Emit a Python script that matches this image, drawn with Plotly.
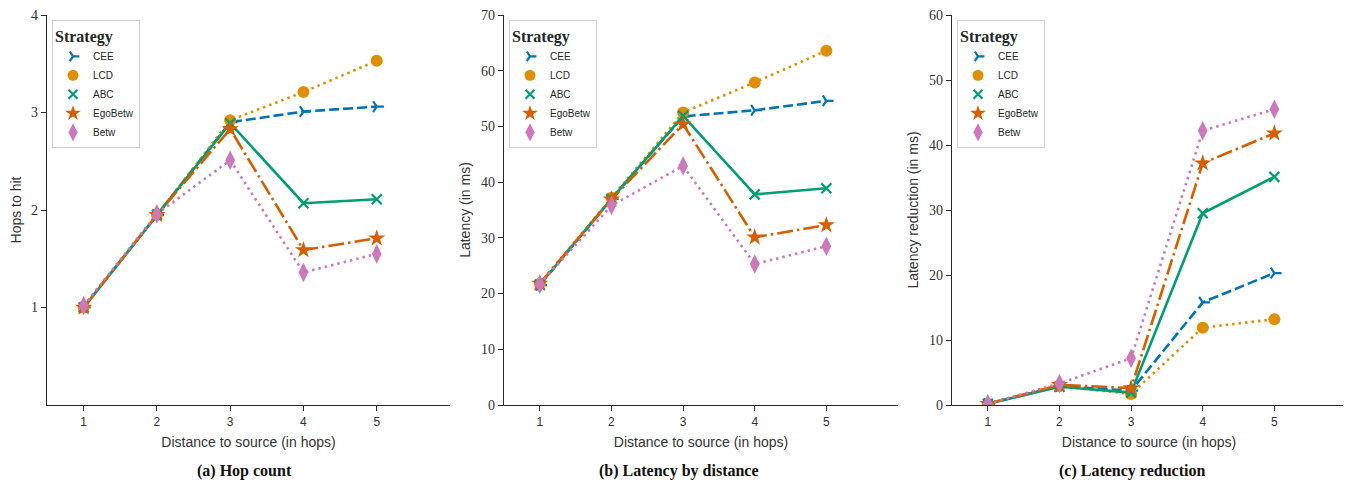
import plotly.graph_objects as go

distance = [1, 2, 3, 4, 5]
strategies = ["CEE", "LCD", "ABC", "EgoBetw", "Betw"]

# (a) Hop count
hops_cee = [1.0, 1.95, 2.90, 3.01, 3.06]
hops_lcd = [1.0, 1.95, 2.92, 3.21, 3.53]
hops_abc = [1.0, 1.95, 2.89, 2.07, 2.11]
hops_ego = [1.0, 1.95, 2.83, 1.59, 1.71]
hops_betw = [1.02, 1.96, 2.51, 1.36, 1.55]

# (b) Latency by distance
lat_cee = [21.5, 37.0, 51.8, 52.9, 54.6]
lat_lcd = [21.8, 37.2, 52.5, 57.9, 63.6]
lat_abc = [21.6, 37.0, 51.9, 37.8, 38.9]
lat_ego = [21.8, 36.9, 50.4, 30.1, 32.3]
lat_betw = [21.7, 35.8, 42.9, 25.3, 28.5]

# (c) Latency reduction
red_cee = [0.2, 2.9, 2.2, 15.8, 20.3]
red_lcd = [0.2, 2.9, 1.7, 11.9, 13.2]
red_abc = [0.2, 2.8, 1.9, 29.5, 35.1]
red_ego = [0.2, 3.1, 2.6, 37.2, 41.8]
red_betw = [0.2, 3.3, 7.2, 42.2, 45.5]

panels = [
    [hops_cee, hops_lcd, hops_abc, hops_ego, hops_betw],
    [lat_cee, lat_lcd, lat_abc, lat_ego, lat_betw],
    [red_cee, red_lcd, red_abc, red_ego, red_betw],
]
y_titles = ["Hops to hit", "Latency (in ms)", "Latency reduction (in ms)"]
y_ranges = [[0, 4], [0, 70], [0, 60]]
y_ticks = [[1, 2, 3, 4], [0, 10, 20, 30, 40, 50, 60, 70], [0, 10, 20, 30, 40, 50, 60]]
x_title = "Distance to source (in hops)"
captions = ["(a) Hop count", "(b) Latency by distance", "(c) Latency reduction"]

colors = ["#0173b2", "#de8f05", "#029e73", "#d55e00", "#cc78bc"]
dashes = ["10px,4px", "2.5px,4px", "solid", "16px,4px,2.5px,4px", "2.5px,4px"]
symbols = ["y-right-open", "circle", "x-thin-open", "star", "diamond-tall"]
msizes = [9, 12, 10, 13, 14]
leg_sizes = [8, 11, 9, 12, 13]

# the page body adds an 8px margin around the figure
OFF = 8
W, H = 1351 - OFF, 485 - OFF
ML, MR, MT = 47 - OFF, 5, 15 - OFF
PLOT_BOTTOM = 405 - OFF
MB = H - PLOT_BOTTOM
PW = W - ML - MR
PH = H - MT - MB


def px_x(sx):
    return (sx - OFF - ML) / PW


def px_y(sy):
    return 1 - (sy - OFF - MT) / PH


px_dom = [(47, 450), (504, 898), (952, 1346)]
doms = [(px_x(a), px_x(b)) for a, b in px_dom]

fig = go.Figure()
legend_names = ["legend", "legend2", "legend3"]
open_syms = ("y-right-open", "x-thin-open")
for p in range(3):
    xa = "x" if p == 0 else f"x{p+1}"
    ya = "y" if p == 0 else f"y{p+1}"
    for i, name in enumerate(strategies):
        mline = dict(color=colors[i], width=2.2 if symbols[i] in open_syms else 0)
        fig.add_trace(go.Scatter(
            x=distance, y=panels[p][i], name=name, mode="lines+markers",
            xaxis=xa, yaxis=ya, showlegend=False,
            line=dict(color=colors[i], width=2.6, dash=dashes[i]),
            marker=dict(symbol=symbols[i], size=msizes[i], color=colors[i], line=mline),
        ))
    # legend entries show markers only
    for i, name in enumerate(strategies):
        mline = dict(color=colors[i], width=2.2 if symbols[i] in open_syms else 0)
        fig.add_trace(go.Scatter(
            x=[None], y=[None], name=name, mode="markers",
            xaxis=xa, yaxis=ya, legend=legend_names[p], showlegend=True,
            marker=dict(symbol=symbols[i], size=leg_sizes[i], color=colors[i], line=mline),
        ))

axis_line = "#262626"
tick_font_y = dict(family="Liberation Serif, DejaVu Serif, serif", size=14, color="#333333")
tick_font_x = dict(family="Liberation Sans, Arial, sans-serif", size=12, color="#333333")
title_font = dict(family="Liberation Sans, Arial, sans-serif", size=14, color="#333333")

layout = dict(
    width=W, height=H, margin=dict(l=ML, r=MR, t=MT, b=MB),
    plot_bgcolor="white", paper_bgcolor="white", showlegend=True,
)
for p in range(3):
    xk = "xaxis" if p == 0 else f"xaxis{p+1}"
    yk = "yaxis" if p == 0 else f"yaxis{p+1}"
    layout[xk] = dict(
        domain=list(doms[p]), range=[0.5, 6], tickvals=[1, 2, 3, 4, 5],
        ticks="outside", ticklen=5, tickwidth=1.2, tickcolor=axis_line,
        showline=True, linecolor=axis_line, linewidth=1.3, showgrid=False, zeroline=False,
        tickfont=tick_font_x, automargin=False, ticklabeloverflow="allow",
        title=dict(text=x_title, font=title_font, standoff=9),
        anchor="y" if p == 0 else f"y{p+1}",
    )
    layout[yk] = dict(
        domain=[0, 1], range=y_ranges[p], tickvals=y_ticks[p],
        ticks="outside", ticklen=5, tickwidth=1.2, tickcolor=axis_line,
        showline=True, linecolor=axis_line, linewidth=1.3, showgrid=False, zeroline=False,
        tickfont=tick_font_y, automargin=False, ticklabeloverflow="allow",
        title=dict(text=y_titles[p], font=title_font, standoff=7),
        anchor="x" if p == 0 else f"x{p+1}",
    )
    layout[legend_names[p]] = dict(
        x=px_x(px_dom[p][0] + 5), y=px_y(20), xanchor="left", yanchor="top",
        bgcolor="rgba(255,255,255,0.85)", bordercolor="#d0d0d0", borderwidth=1,
        title=dict(text="<b>Strategy</b>",
                   font=dict(family="Liberation Serif, DejaVu Serif, serif", size=16, color="#262626")),
        font=dict(family="Liberation Sans, Arial, sans-serif", size=10, color="#262626"),
        itemwidth=30, tracegroupgap=0, itemsizing="trace",
    )

fig.update_layout(**layout)

cap_px = [245, 679, 1132]
for p in range(3):
    fig.add_annotation(
        text=f"<b>{captions[p]}</b>", xref="paper", yref="paper",
        x=px_x(cap_px[p]), y=px_y(471), xanchor="center", yanchor="middle",
        showarrow=False, font=dict(family="Liberation Serif, DejaVu Serif, serif", size=16, color="#111111"),
    )

fig.write_html("out.html")
